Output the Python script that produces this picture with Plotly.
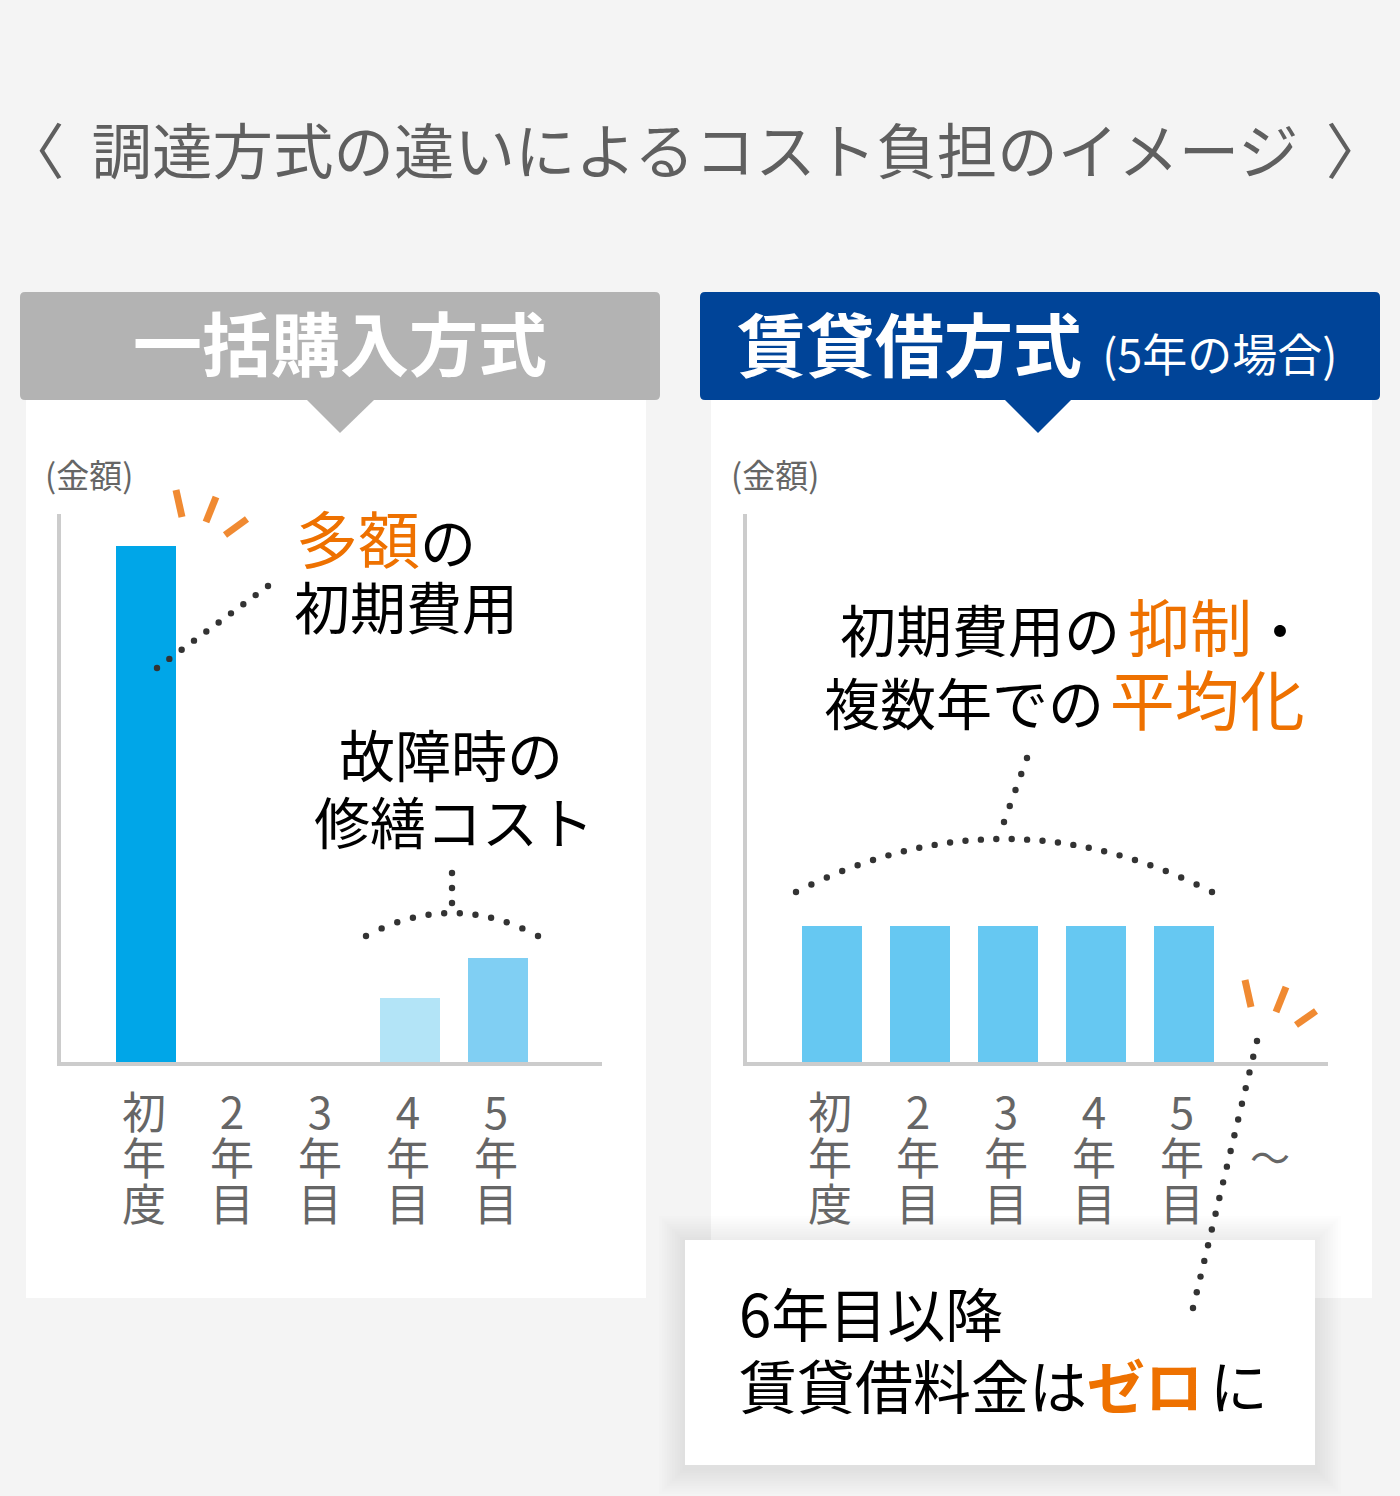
import numpy as np
import plotly.graph_objects as go

W, H = 1400, 1496
FONT = "Noto Sans CJK JP, Noto Sans, sans-serif"
ORANGE = "#ee7100"
SPARK = "#f08a32"
GRAY_TXT = "#666666"
NB = "\u00a0"

# ---------------- data ----------------
title_text = "〈" + NB * 2 + "調達方式の違いによるコスト負担のイメージ" + NB * 2 + "〉"
left_title = "一括購入方式"
right_title = "賃貸借方式"
right_title_sub = "(5年の場合)"
axis_label = "(金額)"

left_categories = ["初年度", "2年目", "3年目", "4年目", "5年目"]
left_values = [100, 0, 0, 12.4, 20.2]
left_colors = ["#00a6e8", "#00a6e8", "#00a6e8", "#b3e4f7", "#80cff3"]

right_categories = ["初年度", "2年目", "3年目", "4年目", "5年目", "～"]
right_values = [26.4, 26.4, 26.4, 26.4, 26.4, 0]
right_color = "#66c8f2"

Y_MAX = 106.2
BAR_W = 0.682


# ---------------- helpers ----------------
def px(x):
    return x / W


def py(y):
    return 1 - y / H


def rect(x0, y0, x1, y1, fill, layer="below", opacity=1.0):
    return dict(type="rect", xref="paper", yref="paper",
                x0=px(x0), x1=px(x1), y0=py(y1), y1=py(y0),
                fillcolor=fill, line=dict(width=0), layer=layer, opacity=opacity)


def rrect(x0, y0, x1, y1, r, fill):
    p = (f"M {px(x0 + r)},{py(y0)} L {px(x1 - r)},{py(y0)} "
         f"Q {px(x1)},{py(y0)} {px(x1)},{py(y0 + r)} "
         f"L {px(x1)},{py(y1 - r)} Q {px(x1)},{py(y1)} {px(x1 - r)},{py(y1)} "
         f"L {px(x0 + r)},{py(y1)} Q {px(x0)},{py(y1)} {px(x0)},{py(y1 - r)} "
         f"L {px(x0)},{py(y0 + r)} Q {px(x0)},{py(y0)} {px(x0 + r)},{py(y0)} Z")
    return dict(type="path", xref="paper", yref="paper", path=p,
                fillcolor=fill, line=dict(width=0), layer="below")


def tri(xl, xr, ytop, xa, ya, fill):
    p = f"M {px(xl)},{py(ytop)} L {px(xr)},{py(ytop)} L {px(xa)},{py(ya)} Z"
    return dict(type="path", xref="paper", yref="paper", path=p,
                fillcolor=fill, line=dict(width=0), layer="below")


def stroke(x0, y0, x1, y1, color=SPARK, w=7):
    return dict(type="line", xref="paper", yref="paper",
                x0=px(x0), y0=py(y0), x1=px(x1), y1=py(y1),
                line=dict(color=color, width=w))


def dot(x, y, r=3.2, color="#333333"):
    return dict(type="circle", xref="paper", yref="paper",
                x0=px(x - r), x1=px(x + r), y0=py(y + r), y1=py(y - r),
                fillcolor=color, line=dict(width=0))


def dots_line(p0, p1, n):
    out = []
    for t in np.linspace(0, 1, n):
        out.append(dot(p0[0] + (p1[0] - p0[0]) * t, p0[1] + (p1[1] - p0[1]) * t))
    return out


def dots_quad(p0, c, p1, n):
    out = []
    for t in np.linspace(0, 1, n):
        x = (1 - t) ** 2 * p0[0] + 2 * t * (1 - t) * c[0] + t ** 2 * p1[0]
        y = (1 - t) ** 2 * p0[1] + 2 * t * (1 - t) * c[1] + t ** 2 * p1[1]
        out.append(dot(x, y))
    return out


def text(x, y, s, size, color="#000000", anchor="left"):
    f = dict(family=FONT, size=size, color=color)
    return dict(x=px(x), y=py(y), xref="paper", yref="paper", text=s,
                showarrow=False, xanchor=anchor, yanchor="middle", font=f)


def orange(s, size=None, bold=False):
    st = f"color:{ORANGE};"
    if size:
        st += f"font-size:{size}px;"
    inner = f"<b>{s}</b>" if bold else s
    return f'<span style="{st}">{inner}</span>'


def gap(size):
    return f'<span style="font-size:{size}px">{NB}</span>'


# ---------------- figure ----------------
fig = go.Figure()

fig.add_trace(go.Bar(x=left_categories, y=left_values, marker_color=left_colors,
                     marker_line_width=0, width=BAR_W, xaxis="x", yaxis="y",
                     showlegend=False, hoverinfo="skip"))
fig.add_trace(go.Bar(x=right_categories, y=right_values, marker_color=right_color,
                     marker_line_width=0, width=BAR_W, xaxis="x2", yaxis="y2",
                     showlegend=False, hoverinfo="skip"))

axis_common = dict(showgrid=False, zeroline=False, showticklabels=False, ticks="",
                   showline=True, linecolor="#cccccc", linewidth=4, fixedrange=True)

Y_DOM = [py(1062), py(514)]

fig.update_layout(
    width=W, height=H,
    margin=dict(l=0, r=0, t=0, b=0),
    paper_bgcolor="#f4f4f4",
    plot_bgcolor="rgba(0,0,0,0)",
    bargap=0,
    xaxis=dict(domain=[px(61), px(602)], type="category",
               categoryorder="array", categoryarray=left_categories,
               range=[-0.966, 5.182], anchor="y", **axis_common),
    yaxis=dict(domain=Y_DOM, range=[0, Y_MAX], anchor="x", **axis_common),
    xaxis2=dict(domain=[px(747), px(1328)], type="category",
                categoryorder="array", categoryarray=right_categories,
                range=[-0.966, 5.636], anchor="y2", **axis_common),
    yaxis2=dict(domain=Y_DOM, range=[0, Y_MAX], anchor="x2", **axis_common),
)

shapes = []
# panels
shapes.append(rect(26, 400, 646, 1298, "#ffffff"))
shapes.append(rect(711, 400, 1372, 1298, "#ffffff"))
# headers
shapes.append(rrect(20, 292, 660, 400, 5, "#b3b3b3"))
shapes.append(tri(306, 375, 399, 340, 433, "#b3b3b3"))
shapes.append(rrect(700, 292, 1380, 400, 5, "#004498"))
shapes.append(tri(1004, 1072, 399, 1038, 433, "#004498"))
# bottom box shadow + box
for k in range(10, 0, -1):
    e = 2.6 * k
    shapes.append(rect(685 - e, 1240 - e + 2, 1315 + e, 1465 + e + 3,
                       "#000000", opacity=0.009))
shapes.append(rect(685, 1240, 1315, 1465, "#ffffff"))

# orange sparks
shapes += [stroke(176, 490, 182, 517), stroke(216, 497, 206, 522), stroke(247, 519, 225, 535)]
shapes += [stroke(1245, 980, 1251, 1007), stroke(1286, 987, 1276, 1012), stroke(1316, 1011, 1296, 1025)]

# dotted leader lines
shapes += dots_line((157, 668), (268, 586), 10)
shapes += dots_quad((366, 936), (452, 890), (538, 936), 12)
shapes += dots_line((452, 903), (452, 873), 3)
shapes += dots_quad((796, 892), (1004, 786), (1212, 892), 28)
shapes += dots_line((1004, 822), (1027, 758), 5)
shapes += dots_line((1257, 1041), (1193, 1308), 18)

fig.update_layout(shapes=shapes)

ann = []
# title
ann.append(text(695, 148, title_text, 60.5, "#5f5f5f", anchor="center"))
# headers
ann.append(text(340, 341, f"<b>{left_title}</b>", 69, "#ffffff", anchor="center"))
ann.append(text(735, 342, f'<b>{right_title}</b><span style="font-size:45px">{NB}{NB}{right_title_sub}</span>',
                69, "#ffffff"))
# axis labels
ann.append(text(43, 474, axis_label, 33, GRAY_TXT))
ann.append(text(729, 474, axis_label, 33, GRAY_TXT))

# left callouts
ann.append(text(294, 537, orange("多額", 62) + "の", 56))
ann.append(text(292, 604, "初期費用", 56))
ann.append(text(337, 752, "故障時の", 56))
ann.append(text(312, 819, "修繕コスト", 56))

# right callouts
ann.append(text(838, 625, "初期費用の" + gap(36) + orange("抑制", 62) + "・", 56))
ann.append(text(822, 697, "複数年での" + gap(26) + orange("平均化", 65), 56))

# bottom box
ann.append(text(737, 1312, "6年目以降", 58))
ann.append(text(737, 1384, "賃貸借料金は" + orange("ゼロ", bold=True) + gap(30) + "に", 58))

# vertical category labels (one stacked text per category)
LABEL_SIZE = 44
LINE_BASE = 35.4   # base size whose 1.3 line spacing gives ~46px rows
for xa, cats in (("x", left_categories), ("x2", right_categories)):
    for i, lab in enumerate(cats):
        if len(lab) == 1:
            ann.append(dict(x=i, y=py(1156), xref=xa, yref="paper", text=lab,
                            showarrow=False, xanchor="center", yanchor="middle",
                            xshift=-2,
                            font=dict(family=FONT, size=40, color=GRAY_TXT)))
            continue
        stacked = "<br>".join(f'<span style="font-size:{LABEL_SIZE}px">{ch}</span>'
                              for ch in lab)
        ann.append(dict(x=i, y=py(1156), xref=xa, yref="paper", text=stacked,
                        showarrow=False, xanchor="center", yanchor="middle",
                        xshift=-2,
                        font=dict(family=FONT, size=LINE_BASE, color=GRAY_TXT)))

fig.update_layout(annotations=ann)

fig.write_html("out.html", config={"displayModeBar": False, "staticPlot": True},
               post_script="document.body.style.margin='0px';")
